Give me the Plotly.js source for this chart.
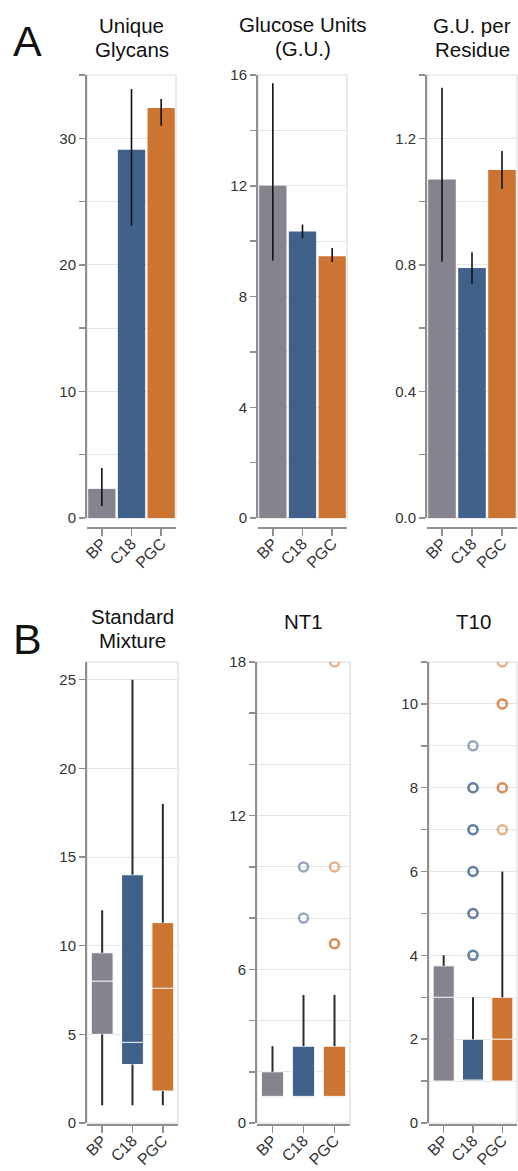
<!DOCTYPE html>
<html>
<head>
<meta charset="utf-8">
<script src="https://cdn.plot.ly/plotly-3.0.1.min.js"></script>
<style>html,body{margin:0;padding:0;background:#fff;}#chart{width:518px;height:1171px;}</style>
</head>
<body>
<div id="chart"></div>
<script>
// ---------- data ----------
const groups = ['BP', 'C18', 'PGC'];

// Panel A: bar + interval
const glycansMean = [2.3, 29.1, 32.4];
const glycansLo   = [0.95, 23.1, 31.0];
const glycansHi   = [3.95, 33.9, 33.1];

const guMean = [12.0, 10.35, 9.45];
const guLo   = [9.3, 10.1, 9.25];
const guHi   = [15.7, 10.6, 9.75];

const guResMean = [1.07, 0.79, 1.10];
const guResLo   = [0.81, 0.74, 1.04];
const guResHi   = [1.36, 0.84, 1.16];

// Panel B: box stats
const smMin = [1, 1, 1];
const smQ1  = [5, 3.3, 1.8];
const smMed = [8, 4.55, 7.6];
const smQ3  = [9.6, 14, 11.3];
const smMax = [12, 25, 18];

const nt1Min = [1, 1, 1];
const nt1Q1  = [1, 1, 1];
const nt1Med = [1, 1, 1];
const nt1Q3  = [2, 3, 3];
const nt1Max = [3, 5, 5];
const nt1OutGroup = ['C18', 'C18', 'PGC', 'PGC', 'PGC', 'PGC'];
const nt1OutVal   = [8, 10, 7, 7, 10, 18];

const t10Min = [1, 1, 1];
const t10Q1  = [1, 1, 1];
const t10Med = [3, 1, 2];
const t10Q3  = [3.75, 2, 3];
const t10Max = [4, 3, 6];
const t10OutGroup = ['C18','C18','C18','C18','C18','C18','C18','C18','C18','C18','C18',
                     'PGC','PGC','PGC','PGC','PGC','PGC'];
const t10OutVal   = [4, 4, 5, 5, 6, 6, 7, 7, 8, 8, 9,
                     7, 8, 8, 10, 10, 11];

// tick labels
const glyTicks = [0, 5, 10, 15, 20, 25, 30, 35];
const glyText  = ['0', '', '10', '', '20', '', '30', ''];
const guTicks  = [0, 2, 4, 6, 8, 10, 12, 14, 16];
const guText   = ['0', '', '4', '', '8', '', '12', '', '16'];
const resTicks = [0, 0.2, 0.4, 0.6, 0.8, 1.0, 1.2, 1.4];
const resText  = ['0.0', '', '0.4', '', '0.8', '', '1.2', ''];
const smTicks  = [0, 5, 10, 15, 20, 25];
const smText   = ['0', '5', '10', '15', '20', '25'];
const ntTicks  = [0, 2, 4, 6, 8, 10, 12, 14, 16, 18];
const ntText   = ['0', '', '', '6', '', '', '12', '', '', '18'];
const t10Ticks = [0, 1, 2, 3, 4, 5, 6, 7, 8, 9, 10, 11];
const t10Text  = ['0', '', '2', '', '4', '', '6', '', '8', '', '10', ''];

// ---------- style ----------
const colors = ['#86838f', '#40618a', '#cc7532'];
const F = 'Liberation Sans, Arial, Helvetica, sans-serif';
const W = 518, H = 1171;
const px = v => v / W;
const py = v => 1 - v / H;

const topY = [py(518), py(75)];
const botY = [py(1123), py(662)];
const topXpos = py(528);
const botXpos = py(1125);

function yAxis(anchor, dom, range, vals, texts) {
  return {
    anchor: anchor, domain: dom, range: range,
    tickmode: 'array', tickvals: vals, ticktext: texts,
    showline: true, linecolor: '#8f8f8f', linewidth: 2,
    ticks: 'outside', ticklen: 6, tickwidth: 1.5, tickcolor: '#8f8f8f',
    showgrid: true, gridcolor: '#e4e4e4', gridwidth: 1, zeroline: false,
    tickfont: {family: F, size: 15, color: '#333'}, fixedrange: true
  };
}
function xAxis(dom, pos) {
  return {
    domain: dom, anchor: 'free', position: pos, type: 'category',
    categoryorder: 'array', categoryarray: groups, range: [-0.5, 2.5],
    showline: true, linecolor: '#8f8f8f', linewidth: 2,
    ticks: 'outside', ticklen: 7, tickwidth: 1.5, tickcolor: '#8f8f8f',
    showgrid: false, zeroline: false, tickangle: -45,
    ticklabeloverflow: 'allow', ticklabelstandoff: -8,
    tickfont: {family: F, size: 16, color: '#333'}, fixedrange: true
  };
}

function barTrace(xa, ya, mean, lo, hi) {
  return {
    type: 'bar', x: groups, y: mean, xaxis: xa, yaxis: ya,
    marker: {color: colors, line: {width: 0}},
    error_y: {type: 'data', symmetric: false,
      array: mean.map((m, i) => hi[i] - m),
      arrayminus: mean.map((m, i) => m - lo[i]),
      color: '#111', thickness: 1.6, width: 0},
    hoverinfo: 'skip'
  };
}

function boxTraces(xa, ya, mn, q1, med, q3, mx) {
  const out = [];
  groups.forEach((g, i) => {
    out.push({
      type: 'box', x: [g], q1: [q1[i]], median: [med[i]], q3: [q3[i]],
      lowerfence: [q1[i]], upperfence: [q3[i]], width: 0.72,
      xaxis: xa, yaxis: ya, fillcolor: colors[i],
      line: {color: '#ffffff', width: 1}, whiskerwidth: 0,
      boxpoints: false, hoverinfo: 'skip', showlegend: false
    });
  });
  const wx = [], wy = [];
  groups.forEach((g, i) => {
    wx.push(g, g, null, g, g, null);
    wy.push(mn[i], q1[i], null, q3[i], mx[i], null);
  });
  out.push({
    type: 'scatter', mode: 'lines', x: wx, y: wy, xaxis: xa, yaxis: ya,
    line: {color: '#2b2b2b', width: 2}, connectgaps: false,
    hoverinfo: 'skip', showlegend: false
  });
  return out;
}

function outlierTrace(xa, ya, gs, vals) {
  return {
    type: 'scatter', mode: 'markers', x: gs, y: vals, xaxis: xa, yaxis: ya,
    marker: {symbol: 'circle-open', size: 9, opacity: 0.55,
      color: gs.map(g => colors[groups.indexOf(g)]),
      line: {width: 2.5, color: gs.map(g => colors[groups.indexOf(g)])}},
    hoverinfo: 'skip', showlegend: false
  };
}

const traces = [
  barTrace('x', 'y', glycansMean, glycansLo, glycansHi),
  barTrace('x2', 'y2', guMean, guLo, guHi),
  barTrace('x3', 'y3', guResMean, guResLo, guResHi),
  ...boxTraces('x4', 'y4', smMin, smQ1, smMed, smQ3, smMax),
  ...boxTraces('x5', 'y5', nt1Min, nt1Q1, nt1Med, nt1Q3, nt1Max),
  outlierTrace('x5', 'y5', nt1OutGroup, nt1OutVal),
  ...boxTraces('x6', 'y6', t10Min, t10Q1, t10Med, t10Q3, t10Max),
  outlierTrace('x6', 'y6', t10OutGroup, t10OutVal)
];

const dx1 = [px(87), px(176)], dx2 = [px(258), px(347)], dx3 = [px(427), px(517)];
const dx4 = [px(87), px(178)], dx5 = [px(257), px(350)], dx6 = [px(429), px(517)];

const frames = ['', '2', '3', '4', '5', '6'].map(s => ({
  type: 'rect', xref: 'x' + s + ' domain', yref: 'y' + s + ' domain',
  x0: 0, x1: 1, y0: 0, y1: 1, layer: 'below',
  line: {color: '#dcdcdc', width: 1.2}
}));

function ann(text, x, y, size) {
  return {text: text, x: px(x), y: py(y), xref: 'paper', yref: 'paper',
    xanchor: 'center', yanchor: 'middle', showarrow: false,
    font: {family: F, size: size, color: '#111'}};
}

const annotations = [
  ann('A', 27, 41.5, 43),
  ann('B', 27.5, 638.5, 43),
  ann('Unique', 131.5, 25, 20.5), ann('Glycans', 131.5, 49.5, 20.5),
  ann('Glucose Units', 302.5, 24.5, 20.5), ann('(G.U.)', 302.5, 49, 20.5),
  ann('G.U. per', 472, 25, 20.5), ann('Residue', 472, 49.5, 20.5),
  ann('Standard', 132.5, 616, 20.5), ann('Mixture', 132.5, 640, 20.5),
  ann('NT1', 303.5, 621, 20.5),
  ann('T10', 473, 621, 20.5)
];

const layout = {
  width: W, height: H, margin: {l: 0, r: 0, t: 0, b: 0},
  paper_bgcolor: '#fff', plot_bgcolor: '#fff', showlegend: false,
  bargap: 0.08, boxmode: 'overlay',
  xaxis: xAxis(dx1, topXpos), yaxis: yAxis('x', topY, [0, 35], glyTicks, glyText),
  xaxis2: xAxis(dx2, topXpos), yaxis2: yAxis('x2', topY, [0, 16], guTicks, guText),
  xaxis3: xAxis(dx3, topXpos), yaxis3: yAxis('x3', topY, [0, 1.4], resTicks, resText),
  xaxis4: xAxis(dx4, botXpos), yaxis4: yAxis('x4', botY, [0, 26], smTicks, smText),
  xaxis5: xAxis(dx5, botXpos), yaxis5: yAxis('x5', botY, [0, 18], ntTicks, ntText),
  xaxis6: xAxis(dx6, botXpos), yaxis6: yAxis('x6', botY, [0, 11], t10Ticks, t10Text),
  shapes: frames, annotations: annotations
};

Plotly.newPlot('chart', traces, layout, {displayModeBar: false, staticPlot: true});
</script>
</body>
</html>
